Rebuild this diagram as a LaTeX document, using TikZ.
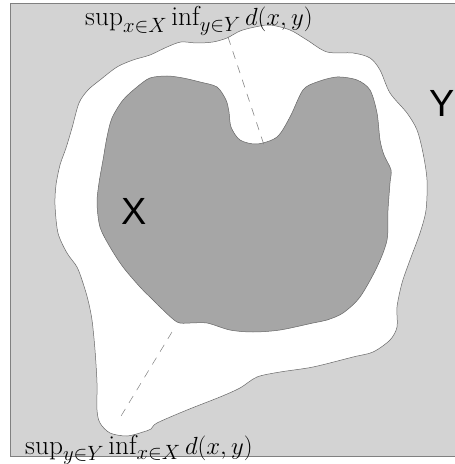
\documentclass[tikz,border=0pt]{standalone}
\usepackage{fontspec}
\newfontfamily\lsans{Liberation Sans}
\definecolor{bggray}{HTML}{D3D3D3}
\definecolor{xgray}{HTML}{A6A6A6}
\definecolor{edgegray}{HTML}{666666}
\begin{document}
\begin{tikzpicture}[x=1bp,y=-1bp,
  outline/.style={draw=edgegray,line width=0.5bp},
  guide/.style={draw=gray,line width=0.5bp,dash pattern=on 8bp off 7bp},
  biglabel/.style={font=\lsans\fontsize{38}{40}\selectfont,inner sep=0pt},
  mathlabel/.style={font=\fontsize{27.5}{30}\selectfont,inner sep=0pt,anchor=base west}]
\useasboundingbox (0,0) rectangle (455,464);
\clip (0,0) rectangle (455,464);
\fill[bggray,draw=gray,line width=0.7bp] (10,3.5) rectangle (470,456);
% Y region
\path[outline,fill=white] plot[smooth cycle,tension=0.5] coordinates {
 (56,185) (60,165) (66,148) (72,128) (79,103) (88,90) (100,80)
 (117,67) (133,60) (150,55) (167,47) (181,42) (197,43) (213,42) (227,38)
 (240,31) (255,27) (270,25) (290,30) (307,40) (327,52) (353,53) (370,58)
 (380,70) (390,93) (407,113) (417,130) (423,153) (427,180) (426,210) (420,233)
 (410,260) (402,283) (397,307) (397,327) (390,340) (373,352) (353,357) (313,367)
 (280,372) (257,377) (240,388) (220,397) (187,410) (157,423) (151,429) (143,432)
 (127,436) (110,433) (100,423) (97,410) (97,383) (95,350) (92,320) (88,300)
 (83,283) (77,267) (67,253) (58,233) (55,205)};
% X region
\path[outline,fill=xgray] plot[smooth cycle,tension=0.5] coordinates {
 (99,183) (103,160) (107,137) (112,118) (123,100) (137,87) (150,78) (167,76)
 (183,78) (200,82) (217,87) (226,100) (229,112) (231,127) (240,140) (257,144)
 (277,137) (290,117) (303,90) (317,82) (337,77) (357,80) (370,90) (377,113)
 (380,140) (384,155) (391,170) (390,183) (388,210) (387,240) (377,267) (360,297)
 (343,313) (327,320) (313,323) (280,330) (253,332) (230,330) (207,323) (190,323)
 (177,322) (160,307) (153,300) (140,287) (123,267) (110,247) (100,227) (97,203)};
\node[biglabel] (X) at (134,211) {X};
\node[biglabel] (Y) at (442,103) {Y};
\coordinate (t1) at (228,37);
\coordinate (t2) at (265,148);
\coordinate (b1) at (172,332);
\coordinate (b2) at (118,421);
\draw[guide] (t1) -- (t2);
\draw[guide] (b1) -- (b2);
\node[mathlabel] (top) at (85,26) {$\sup_{x\in X}\inf_{y\in Y} d(x,y)$};
\node[mathlabel] (bot) at (25,454) {$\sup_{y\in Y}\inf_{x\in X} d(x,y)$};
\end{tikzpicture}
\end{document}
